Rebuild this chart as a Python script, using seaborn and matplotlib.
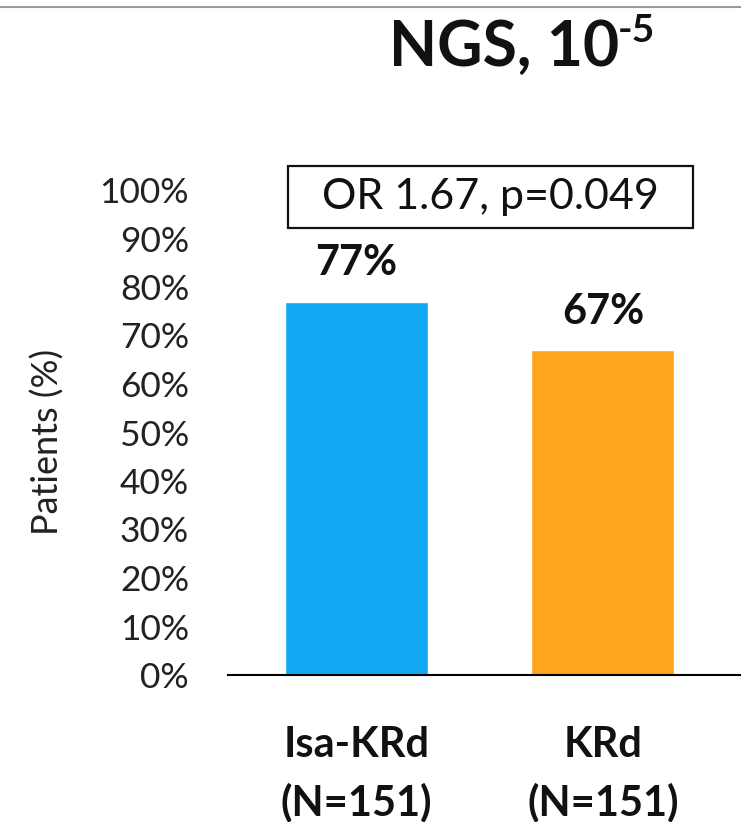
import numpy as np
import pandas as pd
import seaborn as sns
import matplotlib.pyplot as plt
from matplotlib.lines import Line2D

# data
arms = ["Isa-KRd\n(N=151)", "KRd\n(N=151)"]
pct = [77, 67]
bar_colors = ["#12A8F2", "#FFA41B"]
yticks = list(range(0, 101, 10))
stat_text = "OR 1.67, p=0.049"

sns.set_style("white")
plt.rcParams['font.family'] = ['Lato', 'DejaVu Sans']

df = pd.DataFrame({"arm": arms, "pct": pct})

fig = plt.figure(figsize=(7.41, 8.22), dpi=100)
ax = fig.add_axes([228 / 741, 147 / 822, 1 - 228 / 741, 485 / 822])

sns.barplot(data=df, x="arm", y="pct", hue="arm", palette=bar_colors,
            saturation=1, width=0.58, dodge=False, legend=False, ax=ax)

ax.set_xlim(-0.52, 1.56)
ax.set_ylim(0, 100)
ax.set_yticks(yticks)
ax.set_yticklabels([f"{t}%" for t in yticks], fontsize=25.5, color="#222222")
ax.tick_params(axis="y", length=0, pad=28)
ax.tick_params(axis="x", length=0, pad=37)
for lbl in ax.get_xticklabels():
    lbl.set_fontsize(30)
    lbl.set_fontweight("bold")
    lbl.set_linespacing(1.55)
    lbl.set_color("#111111")

ax.set_xlabel("")
ax.set_ylabel("Patients (%)", fontsize=26, color="#222222")
ax.yaxis.set_label_coords(-0.318, 0.48)

sns.despine(ax=ax, left=True, top=True, right=True)
ax.spines["bottom"].set_color("black")
ax.spines["bottom"].set_linewidth(1.5)

# value labels above bars
for i, v in enumerate(pct):
    ax.text(i, v + 4, f"{v}%", ha="center", va="bottom", fontsize=30,
            fontweight="bold", color="#111111")

# odds ratio box
ax.text(0.545, 98.6, "  " + stat_text + "  ", ha="center", va="center",
        fontsize=31, color="#111111", clip_on=False,
        bbox=dict(boxstyle="square,pad=0.28", facecolor="white",
                  edgecolor="#111111", linewidth=1.6))

# title with superscript
t = fig.text(0.681, 0.942, "NGS, 10", ha="center", va="center",
             fontsize=45, fontweight="bold", color="#111111")
ax.annotate("-5", xy=(0.99, 0.5), xycoords=t, ha="left", va="bottom",
            fontsize=28, fontweight="bold", color="#111111",
            annotation_clip=False)

# thin rule at the top of the slide
fig.add_artist(Line2D([0, 1], [1 - 7 / 822, 1 - 7 / 822], color="#9a9a9a",
                      linewidth=1.5, transform=fig.transFigure))

fig.savefig("out.png", dpi=100, facecolor="white")
